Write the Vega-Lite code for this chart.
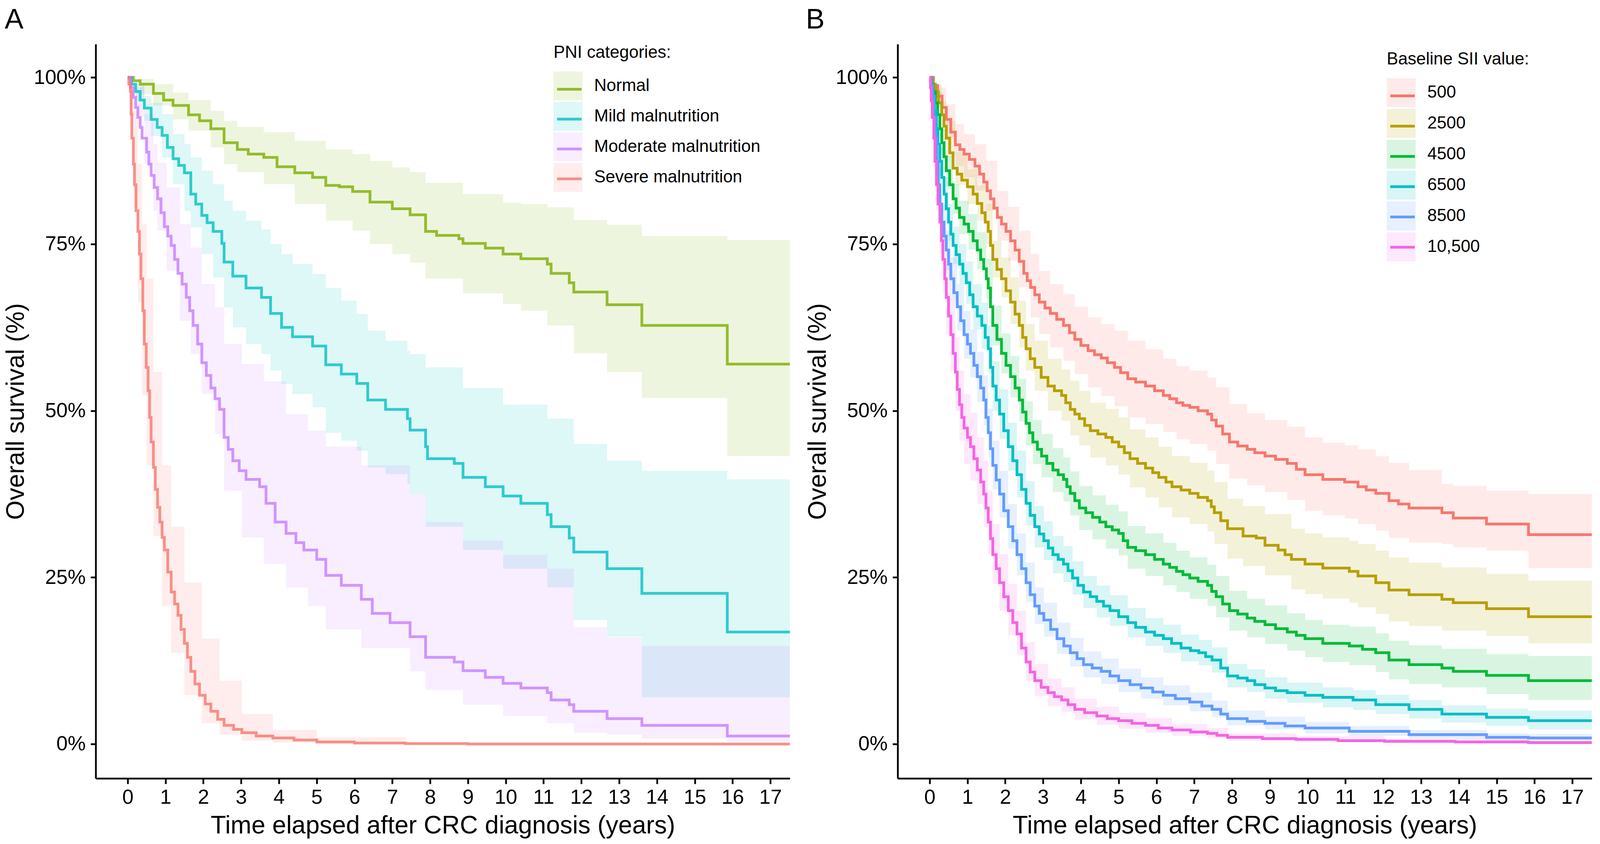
{
  "$schema": "https://vega.github.io/schema/vega-lite/v6.json",
  "padding": {"left": 9, "top": 15, "right": 10, "bottom": 10},
  "bounds": "flush",
  "spacing": 276,
  "datasets": {
    "lineA": [
      {"g":"Normal","t":0,"s":1},{"g":"Normal","t":0.15,"s":0.995},{"g":"Normal","t":0.33,"s":0.99},{"g":"Normal","t":0.68,"s":0.976},{"g":"Normal","t":0.95,"s":0.966},{"g":"Normal","t":1.2,"s":0.958},{"g":"Normal","t":1.61,"s":0.944},{"g":"Normal","t":1.9,"s":0.935},{"g":"Normal","t":2.2,"s":0.923},{"g":"Normal","t":2.55,"s":0.902},{"g":"Normal","t":2.9,"s":0.892},{"g":"Normal","t":3.19,"s":0.885},{"g":"Normal","t":3.6,"s":0.88},{"g":"Normal","t":3.95,"s":0.866},{"g":"Normal","t":4.42,"s":0.857},{"g":"Normal","t":4.89,"s":0.85},{"g":"Normal","t":5.24,"s":0.838},{"g":"Normal","t":5.6,"s":0.836},{"g":"Normal","t":5.95,"s":0.829},{"g":"Normal","t":6.41,"s":0.813},{"g":"Normal","t":7.0,"s":0.803},{"g":"Normal","t":7.47,"s":0.794},{"g":"Normal","t":7.88,"s":0.769},{"g":"Normal","t":8.17,"s":0.763},{"g":"Normal","t":8.76,"s":0.758},{"g":"Normal","t":8.87,"s":0.751},{"g":"Normal","t":9.46,"s":0.744},{"g":"Normal","t":9.93,"s":0.735},{"g":"Normal","t":10.4,"s":0.728},{"g":"Normal","t":11.1,"s":0.72},{"g":"Normal","t":11.2,"s":0.706},{"g":"Normal","t":11.68,"s":0.692},{"g":"Normal","t":11.8,"s":0.678},{"g":"Normal","t":12.68,"s":0.659},{"g":"Normal","t":13.6,"s":0.628},{"g":"Normal","t":15.86,"s":0.57},{"g":"Normal","t":17.515,"s":0.57},
      {"g":"Mild malnutrition","t":0,"s":1},{"g":"Mild malnutrition","t":0.1,"s":0.99},{"g":"Mild malnutrition","t":0.21,"s":0.979},{"g":"Mild malnutrition","t":0.33,"s":0.966},{"g":"Mild malnutrition","t":0.44,"s":0.954},{"g":"Mild malnutrition","t":0.62,"s":0.937},{"g":"Mild malnutrition","t":0.78,"s":0.925},{"g":"Mild malnutrition","t":0.91,"s":0.913},{"g":"Mild malnutrition","t":1.05,"s":0.895},{"g":"Mild malnutrition","t":1.2,"s":0.878},{"g":"Mild malnutrition","t":1.35,"s":0.868},{"g":"Mild malnutrition","t":1.5,"s":0.857},{"g":"Mild malnutrition","t":1.67,"s":0.825},{"g":"Mild malnutrition","t":1.8,"s":0.81},{"g":"Mild malnutrition","t":1.96,"s":0.793},{"g":"Mild malnutrition","t":2.1,"s":0.782},{"g":"Mild malnutrition","t":2.26,"s":0.769},{"g":"Mild malnutrition","t":2.49,"s":0.751},{"g":"Mild malnutrition","t":2.55,"s":0.723},{"g":"Mild malnutrition","t":2.78,"s":0.702},{"g":"Mild malnutrition","t":3.13,"s":0.684},{"g":"Mild malnutrition","t":3.54,"s":0.67},{"g":"Mild malnutrition","t":3.78,"s":0.646},{"g":"Mild malnutrition","t":4.07,"s":0.625},{"g":"Mild malnutrition","t":4.36,"s":0.611},{"g":"Mild malnutrition","t":4.89,"s":0.597},{"g":"Mild malnutrition","t":5.24,"s":0.569},{"g":"Mild malnutrition","t":5.65,"s":0.555},{"g":"Mild malnutrition","t":6.06,"s":0.541},{"g":"Mild malnutrition","t":6.35,"s":0.516},{"g":"Mild malnutrition","t":6.82,"s":0.502},{"g":"Mild malnutrition","t":7.4,"s":0.488},{"g":"Mild malnutrition","t":7.47,"s":0.471},{"g":"Mild malnutrition","t":7.88,"s":0.446},{"g":"Mild malnutrition","t":7.93,"s":0.428},{"g":"Mild malnutrition","t":8.64,"s":0.421},{"g":"Mild malnutrition","t":8.87,"s":0.4},{"g":"Mild malnutrition","t":9.46,"s":0.386},{"g":"Mild malnutrition","t":9.93,"s":0.372},{"g":"Mild malnutrition","t":10.4,"s":0.361},{"g":"Mild malnutrition","t":11.1,"s":0.344},{"g":"Mild malnutrition","t":11.2,"s":0.326},{"g":"Mild malnutrition","t":11.68,"s":0.309},{"g":"Mild malnutrition","t":11.8,"s":0.288},{"g":"Mild malnutrition","t":12.68,"s":0.263},{"g":"Mild malnutrition","t":13.6,"s":0.226},{"g":"Mild malnutrition","t":15.86,"s":0.168},{"g":"Mild malnutrition","t":17.515,"s":0.168},
      {"g":"Moderate malnutrition","t":0,"s":1},{"g":"Moderate malnutrition","t":0.08,"s":0.985},{"g":"Moderate malnutrition","t":0.15,"s":0.97},{"g":"Moderate malnutrition","t":0.21,"s":0.955},{"g":"Moderate malnutrition","t":0.27,"s":0.94},{"g":"Moderate malnutrition","t":0.33,"s":0.925},{"g":"Moderate malnutrition","t":0.38,"s":0.909},{"g":"Moderate malnutrition","t":0.5,"s":0.888},{"g":"Moderate malnutrition","t":0.56,"s":0.87},{"g":"Moderate malnutrition","t":0.62,"s":0.853},{"g":"Moderate malnutrition","t":0.7,"s":0.835},{"g":"Moderate malnutrition","t":0.79,"s":0.818},{"g":"Moderate malnutrition","t":0.88,"s":0.797},{"g":"Moderate malnutrition","t":0.97,"s":0.776},{"g":"Moderate malnutrition","t":1.06,"s":0.762},{"g":"Moderate malnutrition","t":1.15,"s":0.748},{"g":"Moderate malnutrition","t":1.24,"s":0.727},{"g":"Moderate malnutrition","t":1.33,"s":0.706},{"g":"Moderate malnutrition","t":1.44,"s":0.69},{"g":"Moderate malnutrition","t":1.55,"s":0.67},{"g":"Moderate malnutrition","t":1.64,"s":0.65},{"g":"Moderate malnutrition","t":1.73,"s":0.628},{"g":"Moderate malnutrition","t":1.85,"s":0.6},{"g":"Moderate malnutrition","t":1.96,"s":0.572},{"g":"Moderate malnutrition","t":2.08,"s":0.553},{"g":"Moderate malnutrition","t":2.2,"s":0.534},{"g":"Moderate malnutrition","t":2.31,"s":0.518},{"g":"Moderate malnutrition","t":2.43,"s":0.502},{"g":"Moderate malnutrition","t":2.55,"s":0.46},{"g":"Moderate malnutrition","t":2.66,"s":0.442},{"g":"Moderate malnutrition","t":2.78,"s":0.425},{"g":"Moderate malnutrition","t":2.95,"s":0.41},{"g":"Moderate malnutrition","t":3.13,"s":0.397},{"g":"Moderate malnutrition","t":3.49,"s":0.386},{"g":"Moderate malnutrition","t":3.66,"s":0.361},{"g":"Moderate malnutrition","t":3.9,"s":0.333},{"g":"Moderate malnutrition","t":4.19,"s":0.316},{"g":"Moderate malnutrition","t":4.45,"s":0.302},{"g":"Moderate malnutrition","t":4.66,"s":0.291},{"g":"Moderate malnutrition","t":5.0,"s":0.277},{"g":"Moderate malnutrition","t":5.24,"s":0.253},{"g":"Moderate malnutrition","t":5.65,"s":0.238},{"g":"Moderate malnutrition","t":6.18,"s":0.217},{"g":"Moderate malnutrition","t":6.47,"s":0.196},{"g":"Moderate malnutrition","t":6.94,"s":0.182},{"g":"Moderate malnutrition","t":7.47,"s":0.161},{"g":"Moderate malnutrition","t":7.88,"s":0.13},{"g":"Moderate malnutrition","t":8.64,"s":0.123},{"g":"Moderate malnutrition","t":8.87,"s":0.11},{"g":"Moderate malnutrition","t":9.46,"s":0.1},{"g":"Moderate malnutrition","t":9.93,"s":0.091},{"g":"Moderate malnutrition","t":10.4,"s":0.084},{"g":"Moderate malnutrition","t":11.1,"s":0.077},{"g":"Moderate malnutrition","t":11.2,"s":0.066},{"g":"Moderate malnutrition","t":11.68,"s":0.059},{"g":"Moderate malnutrition","t":11.8,"s":0.049},{"g":"Moderate malnutrition","t":12.68,"s":0.038},{"g":"Moderate malnutrition","t":13.6,"s":0.028},{"g":"Moderate malnutrition","t":15.86,"s":0.012},{"g":"Moderate malnutrition","t":17.515,"s":0.012},
      {"g":"Severe malnutrition","t":0,"s":1},{"g":"Severe malnutrition","t":0.03,"s":0.99},{"g":"Severe malnutrition","t":0.07,"s":0.979},{"g":"Severe malnutrition","t":0.09,"s":0.945},{"g":"Severe malnutrition","t":0.11,"s":0.909},{"g":"Severe malnutrition","t":0.15,"s":0.87},{"g":"Severe malnutrition","t":0.18,"s":0.839},{"g":"Severe malnutrition","t":0.22,"s":0.8},{"g":"Severe malnutrition","t":0.27,"s":0.769},{"g":"Severe malnutrition","t":0.31,"s":0.735},{"g":"Severe malnutrition","t":0.35,"s":0.698},{"g":"Severe malnutrition","t":0.4,"s":0.65},{"g":"Severe malnutrition","t":0.44,"s":0.6},{"g":"Severe malnutrition","t":0.49,"s":0.565},{"g":"Severe malnutrition","t":0.54,"s":0.53},{"g":"Severe malnutrition","t":0.58,"s":0.49},{"g":"Severe malnutrition","t":0.62,"s":0.453},{"g":"Severe malnutrition","t":0.68,"s":0.415},{"g":"Severe malnutrition","t":0.73,"s":0.382},{"g":"Severe malnutrition","t":0.79,"s":0.355},{"g":"Severe malnutrition","t":0.85,"s":0.333},{"g":"Severe malnutrition","t":0.91,"s":0.31},{"g":"Severe malnutrition","t":0.97,"s":0.291},{"g":"Severe malnutrition","t":1.06,"s":0.258},{"g":"Severe malnutrition","t":1.15,"s":0.228},{"g":"Severe malnutrition","t":1.24,"s":0.21},{"g":"Severe malnutrition","t":1.33,"s":0.193},{"g":"Severe malnutrition","t":1.41,"s":0.172},{"g":"Severe malnutrition","t":1.5,"s":0.151},{"g":"Severe malnutrition","t":1.58,"s":0.13},{"g":"Severe malnutrition","t":1.67,"s":0.109},{"g":"Severe malnutrition","t":1.78,"s":0.09},{"g":"Severe malnutrition","t":1.9,"s":0.073},{"g":"Severe malnutrition","t":2.05,"s":0.06},{"g":"Severe malnutrition","t":2.2,"s":0.049},{"g":"Severe malnutrition","t":2.38,"s":0.037},{"g":"Severe malnutrition","t":2.55,"s":0.028},{"g":"Severe malnutrition","t":2.8,"s":0.022},{"g":"Severe malnutrition","t":3.02,"s":0.017},{"g":"Severe malnutrition","t":3.4,"s":0.012},{"g":"Severe malnutrition","t":3.84,"s":0.009},{"g":"Severe malnutrition","t":4.4,"s":0.006},{"g":"Severe malnutrition","t":5.0,"s":0.003},{"g":"Severe malnutrition","t":6.0,"s":0.0015},{"g":"Severe malnutrition","t":7.35,"s":0.0005},{"g":"Severe malnutrition","t":9,"s":0},{"g":"Severe malnutrition","t":17.515,"s":0}
    ],
    "bandA": [
      {"grp":"Normal","t":0,"lo":1,"hi":1},{"grp":"Normal","t":0.33,"lo":0.975,"hi":0.998},{"grp":"Normal","t":0.68,"lo":0.958,"hi":0.99},{"grp":"Normal","t":1.2,"lo":0.937,"hi":0.977},{"grp":"Normal","t":1.61,"lo":0.92,"hi":0.966},{"grp":"Normal","t":2.2,"lo":0.895,"hi":0.95},{"grp":"Normal","t":2.55,"lo":0.87,"hi":0.935},{"grp":"Normal","t":2.9,"lo":0.858,"hi":0.926},{"grp":"Normal","t":3.6,"lo":0.84,"hi":0.918},{"grp":"Normal","t":4.42,"lo":0.81,"hi":0.905},{"grp":"Normal","t":5.24,"lo":0.785,"hi":0.892},{"grp":"Normal","t":5.95,"lo":0.77,"hi":0.885},{"grp":"Normal","t":6.41,"lo":0.75,"hi":0.875},{"grp":"Normal","t":7.0,"lo":0.735,"hi":0.865},{"grp":"Normal","t":7.47,"lo":0.722,"hi":0.858},{"grp":"Normal","t":7.88,"lo":0.698,"hi":0.842},{"grp":"Normal","t":8.87,"lo":0.676,"hi":0.825},{"grp":"Normal","t":9.93,"lo":0.66,"hi":0.812},{"grp":"Normal","t":10.4,"lo":0.65,"hi":0.81},{"grp":"Normal","t":11.1,"lo":0.628,"hi":0.805},{"grp":"Normal","t":11.8,"lo":0.586,"hi":0.786},{"grp":"Normal","t":12.68,"lo":0.558,"hi":0.779},{"grp":"Normal","t":13.6,"lo":0.519,"hi":0.762},{"grp":"Normal","t":15.86,"lo":0.432,"hi":0.756},{"grp":"Normal","t":17.515,"lo":0.432,"hi":0.756},
      {"grp":"Mild malnutrition","t":0,"lo":1,"hi":1},{"grp":"Mild malnutrition","t":0.21,"lo":0.965,"hi":0.99},{"grp":"Mild malnutrition","t":0.44,"lo":0.935,"hi":0.972},{"grp":"Mild malnutrition","t":0.62,"lo":0.912,"hi":0.962},{"grp":"Mild malnutrition","t":0.91,"lo":0.88,"hi":0.945},{"grp":"Mild malnutrition","t":1.2,"lo":0.84,"hi":0.915},{"grp":"Mild malnutrition","t":1.5,"lo":0.8,"hi":0.9},{"grp":"Mild malnutrition","t":1.67,"lo":0.775,"hi":0.88},{"grp":"Mild malnutrition","t":1.96,"lo":0.735,"hi":0.86},{"grp":"Mild malnutrition","t":2.26,"lo":0.7,"hi":0.84},{"grp":"Mild malnutrition","t":2.55,"lo":0.655,"hi":0.815},{"grp":"Mild malnutrition","t":2.78,"lo":0.625,"hi":0.8},{"grp":"Mild malnutrition","t":3.13,"lo":0.6,"hi":0.785},{"grp":"Mild malnutrition","t":3.54,"lo":0.585,"hi":0.772},{"grp":"Mild malnutrition","t":3.78,"lo":0.56,"hi":0.75},{"grp":"Mild malnutrition","t":4.07,"lo":0.54,"hi":0.735},{"grp":"Mild malnutrition","t":4.36,"lo":0.525,"hi":0.72},{"grp":"Mild malnutrition","t":4.89,"lo":0.505,"hi":0.705},{"grp":"Mild malnutrition","t":5.24,"lo":0.467,"hi":0.684},{"grp":"Mild malnutrition","t":5.65,"lo":0.455,"hi":0.665},{"grp":"Mild malnutrition","t":6.06,"lo":0.44,"hi":0.645},{"grp":"Mild malnutrition","t":6.35,"lo":0.415,"hi":0.62},{"grp":"Mild malnutrition","t":6.82,"lo":0.405,"hi":0.605},{"grp":"Mild malnutrition","t":7.4,"lo":0.39,"hi":0.59},{"grp":"Mild malnutrition","t":7.47,"lo":0.375,"hi":0.585},{"grp":"Mild malnutrition","t":7.88,"lo":0.326,"hi":0.565},{"grp":"Mild malnutrition","t":8.87,"lo":0.291,"hi":0.534},{"grp":"Mild malnutrition","t":9.93,"lo":0.263,"hi":0.509},{"grp":"Mild malnutrition","t":11.1,"lo":0.235,"hi":0.488},{"grp":"Mild malnutrition","t":11.8,"lo":0.186,"hi":0.45},{"grp":"Mild malnutrition","t":12.68,"lo":0.161,"hi":0.425},{"grp":"Mild malnutrition","t":13.6,"lo":0.07,"hi":0.41},{"grp":"Mild malnutrition","t":15.86,"lo":0.07,"hi":0.397},{"grp":"Mild malnutrition","t":17.515,"lo":0.07,"hi":0.397},
      {"grp":"Moderate malnutrition","t":0,"lo":1,"hi":1},{"grp":"Moderate malnutrition","t":0.21,"lo":0.94,"hi":0.985},{"grp":"Moderate malnutrition","t":0.44,"lo":0.87,"hi":0.945},{"grp":"Moderate malnutrition","t":0.68,"lo":0.8,"hi":0.9},{"grp":"Moderate malnutrition","t":0.79,"lo":0.77,"hi":0.872},{"grp":"Moderate malnutrition","t":1.03,"lo":0.71,"hi":0.835},{"grp":"Moderate malnutrition","t":1.38,"lo":0.635,"hi":0.78},{"grp":"Moderate malnutrition","t":1.67,"lo":0.585,"hi":0.745},{"grp":"Moderate malnutrition","t":1.96,"lo":0.525,"hi":0.69},{"grp":"Moderate malnutrition","t":2.31,"lo":0.465,"hi":0.655},{"grp":"Moderate malnutrition","t":2.55,"lo":0.38,"hi":0.6},{"grp":"Moderate malnutrition","t":3.02,"lo":0.31,"hi":0.57},{"grp":"Moderate malnutrition","t":3.6,"lo":0.27,"hi":0.544},{"grp":"Moderate malnutrition","t":4.19,"lo":0.235,"hi":0.495},{"grp":"Moderate malnutrition","t":4.77,"lo":0.207,"hi":0.47},{"grp":"Moderate malnutrition","t":5.24,"lo":0.172,"hi":0.446},{"grp":"Moderate malnutrition","t":6.18,"lo":0.144,"hi":0.418},{"grp":"Moderate malnutrition","t":7.47,"lo":0.109,"hi":0.375},{"grp":"Moderate malnutrition","t":7.88,"lo":0.081,"hi":0.333},{"grp":"Moderate malnutrition","t":8.87,"lo":0.059,"hi":0.305},{"grp":"Moderate malnutrition","t":9.93,"lo":0.042,"hi":0.284},{"grp":"Moderate malnutrition","t":11.1,"lo":0.031,"hi":0.263},{"grp":"Moderate malnutrition","t":11.8,"lo":0.017,"hi":0.175},{"grp":"Moderate malnutrition","t":12.68,"lo":0.014,"hi":0.16},{"grp":"Moderate malnutrition","t":13.6,"lo":0.008,"hi":0.147},{"grp":"Moderate malnutrition","t":15.86,"lo":0.003,"hi":0.147},{"grp":"Moderate malnutrition","t":17.515,"lo":0.003,"hi":0.147},
      {"grp":"Severe malnutrition","t":0,"lo":1,"hi":1},{"grp":"Severe malnutrition","t":0.07,"lo":0.944,"hi":0.99},{"grp":"Severe malnutrition","t":0.15,"lo":0.804,"hi":0.95},{"grp":"Severe malnutrition","t":0.27,"lo":0.663,"hi":0.87},{"grp":"Severe malnutrition","t":0.38,"lo":0.523,"hi":0.78},{"grp":"Severe malnutrition","t":0.5,"lo":0.418,"hi":0.698},{"grp":"Severe malnutrition","t":0.68,"lo":0.312,"hi":0.558},{"grp":"Severe malnutrition","t":0.91,"lo":0.207,"hi":0.418},{"grp":"Severe malnutrition","t":1.15,"lo":0.137,"hi":0.326},{"grp":"Severe malnutrition","t":1.5,"lo":0.073,"hi":0.242},{"grp":"Severe malnutrition","t":1.96,"lo":0.031,"hi":0.158},{"grp":"Severe malnutrition","t":2.43,"lo":0.014,"hi":0.095},{"grp":"Severe malnutrition","t":3.02,"lo":0.005,"hi":0.045},{"grp":"Severe malnutrition","t":3.84,"lo":0.002,"hi":0.021},{"grp":"Severe malnutrition","t":5.0,"lo":0,"hi":0.01},{"grp":"Severe malnutrition","t":7.35,"lo":0,"hi":0.003},{"grp":"Severe malnutrition","t":9,"lo":0,"hi":0.001},{"grp":"Severe malnutrition","t":17.515,"lo":0,"hi":0.001}
    ],
    "lineB": [
      {"g":"500","t":0,"s":1},{"g":"500","t":0.1,"s":0.988},{"g":"500","t":0.21,"s":0.972},{"g":"500","t":0.33,"s":0.955},{"g":"500","t":0.44,"s":0.937},{"g":"500","t":0.56,"s":0.918},{"g":"500","t":0.68,"s":0.899},{"g":"500","t":0.8,"s":0.892},{"g":"500","t":0.91,"s":0.885},{"g":"500","t":1.05,"s":0.877},{"g":"500","t":1.2,"s":0.867},{"g":"500","t":1.32,"s":0.855},{"g":"500","t":1.43,"s":0.843},{"g":"500","t":1.52,"s":0.83},{"g":"500","t":1.61,"s":0.818},{"g":"500","t":1.7,"s":0.804},{"g":"500","t":1.79,"s":0.79},{"g":"500","t":1.9,"s":0.78},{"g":"500","t":2.02,"s":0.769},{"g":"500","t":2.14,"s":0.755},{"g":"500","t":2.26,"s":0.741},{"g":"500","t":2.37,"s":0.724},{"g":"500","t":2.49,"s":0.706},{"g":"500","t":2.58,"s":0.695},{"g":"500","t":2.67,"s":0.685},{"g":"500","t":2.78,"s":0.674},{"g":"500","t":2.9,"s":0.663},{"g":"500","t":3.05,"s":0.654},{"g":"500","t":3.19,"s":0.646},{"g":"500","t":3.36,"s":0.637},{"g":"500","t":3.54,"s":0.628},{"g":"500","t":3.7,"s":0.617},{"g":"500","t":3.84,"s":0.607},{"g":"500","t":4.0,"s":0.598},{"g":"500","t":4.19,"s":0.59},{"g":"500","t":4.36,"s":0.584},{"g":"500","t":4.54,"s":0.579},{"g":"500","t":4.7,"s":0.572},{"g":"500","t":4.89,"s":0.565},{"g":"500","t":5.05,"s":0.557},{"g":"500","t":5.24,"s":0.548},{"g":"500","t":5.45,"s":0.543},{"g":"500","t":5.71,"s":0.537},{"g":"500","t":5.95,"s":0.53},{"g":"500","t":6.18,"s":0.523},{"g":"500","t":6.35,"s":0.518},{"g":"500","t":6.53,"s":0.512},{"g":"500","t":6.7,"s":0.508},{"g":"500","t":6.88,"s":0.505},{"g":"500","t":7.1,"s":0.5},{"g":"500","t":7.35,"s":0.495},{"g":"500","t":7.46,"s":0.486},{"g":"500","t":7.58,"s":0.477},{"g":"500","t":7.75,"s":0.465},{"g":"500","t":7.93,"s":0.453},{"g":"500","t":8.15,"s":0.447},{"g":"500","t":8.4,"s":0.442},{"g":"500","t":8.6,"s":0.437},{"g":"500","t":8.87,"s":0.432},{"g":"500","t":9.15,"s":0.427},{"g":"500","t":9.46,"s":0.421},{"g":"500","t":9.7,"s":0.412},{"g":"500","t":9.93,"s":0.404},{"g":"500","t":10.4,"s":0.397},{"g":"500","t":10.98,"s":0.393},{"g":"500","t":11.33,"s":0.386},{"g":"500","t":11.55,"s":0.381},{"g":"500","t":11.8,"s":0.376},{"g":"500","t":12.15,"s":0.365},{"g":"500","t":12.4,"s":0.36},{"g":"500","t":12.68,"s":0.354},{"g":"500","t":13.55,"s":0.347},{"g":"500","t":13.85,"s":0.339},{"g":"500","t":14.73,"s":0.33},{"g":"500","t":15.84,"s":0.314},{"g":"500","t":17.515,"s":0.314},
      {"g":"2500","t":0,"s":1},{"g":"2500","t":0.08,"s":0.99},{"g":"2500","t":0.15,"s":0.979},{"g":"2500","t":0.23,"s":0.962},{"g":"2500","t":0.32,"s":0.944},{"g":"2500","t":0.38,"s":0.927},{"g":"2500","t":0.44,"s":0.909},{"g":"2500","t":0.53,"s":0.887},{"g":"2500","t":0.62,"s":0.864},{"g":"2500","t":0.73,"s":0.855},{"g":"2500","t":0.85,"s":0.846},{"g":"2500","t":1.0,"s":0.836},{"g":"2500","t":1.15,"s":0.825},{"g":"2500","t":1.26,"s":0.811},{"g":"2500","t":1.38,"s":0.797},{"g":"2500","t":1.47,"s":0.783},{"g":"2500","t":1.55,"s":0.769},{"g":"2500","t":1.61,"s":0.748},{"g":"2500","t":1.67,"s":0.727},{"g":"2500","t":1.78,"s":0.712},{"g":"2500","t":1.9,"s":0.698},{"g":"2500","t":2.02,"s":0.68},{"g":"2500","t":2.14,"s":0.663},{"g":"2500","t":2.26,"s":0.645},{"g":"2500","t":2.37,"s":0.628},{"g":"2500","t":2.46,"s":0.61},{"g":"2500","t":2.55,"s":0.593},{"g":"2500","t":2.66,"s":0.578},{"g":"2500","t":2.78,"s":0.565},{"g":"2500","t":2.95,"s":0.55},{"g":"2500","t":3.13,"s":0.537},{"g":"2500","t":3.3,"s":0.53},{"g":"2500","t":3.49,"s":0.523},{"g":"2500","t":3.6,"s":0.512},{"g":"2500","t":3.72,"s":0.502},{"g":"2500","t":3.84,"s":0.495},{"g":"2500","t":3.96,"s":0.488},{"g":"2500","t":4.1,"s":0.478},{"g":"2500","t":4.25,"s":0.47},{"g":"2500","t":4.45,"s":0.465},{"g":"2500","t":4.66,"s":0.46},{"g":"2500","t":4.83,"s":0.453},{"g":"2500","t":5.0,"s":0.446},{"g":"2500","t":5.15,"s":0.437},{"g":"2500","t":5.3,"s":0.428},{"g":"2500","t":5.5,"s":0.421},{"g":"2500","t":5.71,"s":0.414},{"g":"2500","t":5.9,"s":0.407},{"g":"2500","t":6.06,"s":0.4},{"g":"2500","t":6.25,"s":0.393},{"g":"2500","t":6.41,"s":0.386},{"g":"2500","t":6.65,"s":0.381},{"g":"2500","t":6.88,"s":0.376},{"g":"2500","t":7.1,"s":0.37},{"g":"2500","t":7.35,"s":0.365},{"g":"2500","t":7.45,"s":0.356},{"g":"2500","t":7.53,"s":0.347},{"g":"2500","t":7.7,"s":0.335},{"g":"2500","t":7.88,"s":0.323},{"g":"2500","t":8.29,"s":0.312},{"g":"2500","t":8.64,"s":0.309},{"g":"2500","t":8.87,"s":0.298},{"g":"2500","t":9.22,"s":0.291},{"g":"2500","t":9.4,"s":0.284},{"g":"2500","t":9.57,"s":0.277},{"g":"2500","t":9.93,"s":0.27},{"g":"2500","t":10.4,"s":0.264},{"g":"2500","t":11.1,"s":0.259},{"g":"2500","t":11.33,"s":0.252},{"g":"2500","t":11.8,"s":0.242},{"g":"2500","t":12.15,"s":0.231},{"g":"2500","t":12.68,"s":0.224},{"g":"2500","t":13.55,"s":0.217},{"g":"2500","t":13.85,"s":0.212},{"g":"2500","t":14.73,"s":0.203},{"g":"2500","t":15.84,"s":0.191},{"g":"2500","t":17.515,"s":0.191},
      {"g":"4500","t":0,"s":1},{"g":"4500","t":0.05,"s":0.99},{"g":"4500","t":0.09,"s":0.979},{"g":"4500","t":0.15,"s":0.962},{"g":"4500","t":0.21,"s":0.944},{"g":"4500","t":0.27,"s":0.923},{"g":"4500","t":0.32,"s":0.902},{"g":"4500","t":0.38,"s":0.881},{"g":"4500","t":0.44,"s":0.86},{"g":"4500","t":0.53,"s":0.839},{"g":"4500","t":0.62,"s":0.818},{"g":"4500","t":0.7,"s":0.804},{"g":"4500","t":0.79,"s":0.79},{"g":"4500","t":0.91,"s":0.78},{"g":"4500","t":1.03,"s":0.769},{"g":"4500","t":1.15,"s":0.755},{"g":"4500","t":1.26,"s":0.741},{"g":"4500","t":1.35,"s":0.727},{"g":"4500","t":1.43,"s":0.713},{"g":"4500","t":1.5,"s":0.698},{"g":"4500","t":1.55,"s":0.684},{"g":"4500","t":1.61,"s":0.656},{"g":"4500","t":1.67,"s":0.628},{"g":"4500","t":1.78,"s":0.607},{"g":"4500","t":1.9,"s":0.586},{"g":"4500","t":2.02,"s":0.568},{"g":"4500","t":2.14,"s":0.551},{"g":"4500","t":2.26,"s":0.534},{"g":"4500","t":2.37,"s":0.516},{"g":"4500","t":2.46,"s":0.498},{"g":"4500","t":2.55,"s":0.481},{"g":"4500","t":2.64,"s":0.467},{"g":"4500","t":2.73,"s":0.453},{"g":"4500","t":2.85,"s":0.442},{"g":"4500","t":2.96,"s":0.432},{"g":"4500","t":3.1,"s":0.421},{"g":"4500","t":3.26,"s":0.411},{"g":"4500","t":3.4,"s":0.404},{"g":"4500","t":3.54,"s":0.397},{"g":"4500","t":3.63,"s":0.386},{"g":"4500","t":3.72,"s":0.376},{"g":"4500","t":3.84,"s":0.365},{"g":"4500","t":3.96,"s":0.354},{"g":"4500","t":4.13,"s":0.347},{"g":"4500","t":4.31,"s":0.34},{"g":"4500","t":4.5,"s":0.333},{"g":"4500","t":4.66,"s":0.326},{"g":"4500","t":4.83,"s":0.321},{"g":"4500","t":5.0,"s":0.316},{"g":"4500","t":5.12,"s":0.305},{"g":"4500","t":5.24,"s":0.295},{"g":"4500","t":5.45,"s":0.29},{"g":"4500","t":5.71,"s":0.284},{"g":"4500","t":5.95,"s":0.277},{"g":"4500","t":6.18,"s":0.27},{"g":"4500","t":6.35,"s":0.265},{"g":"4500","t":6.53,"s":0.259},{"g":"4500","t":6.7,"s":0.254},{"g":"4500","t":6.88,"s":0.249},{"g":"4500","t":7.1,"s":0.244},{"g":"4500","t":7.35,"s":0.238},{"g":"4500","t":7.46,"s":0.229},{"g":"4500","t":7.58,"s":0.221},{"g":"4500","t":7.75,"s":0.21},{"g":"4500","t":7.93,"s":0.2},{"g":"4500","t":8.15,"s":0.195},{"g":"4500","t":8.4,"s":0.189},{"g":"4500","t":8.6,"s":0.184},{"g":"4500","t":8.87,"s":0.179},{"g":"4500","t":9.15,"s":0.173},{"g":"4500","t":9.46,"s":0.168},{"g":"4500","t":9.7,"s":0.163},{"g":"4500","t":9.93,"s":0.158},{"g":"4500","t":10.4,"s":0.151},{"g":"4500","t":11.1,"s":0.147},{"g":"4500","t":11.45,"s":0.142},{"g":"4500","t":11.8,"s":0.137},{"g":"4500","t":12.15,"s":0.126},{"g":"4500","t":12.68,"s":0.119},{"g":"4500","t":13.55,"s":0.114},{"g":"4500","t":13.85,"s":0.109},{"g":"4500","t":14.73,"s":0.103},{"g":"4500","t":15.84,"s":0.095},{"g":"4500","t":17.515,"s":0.095},
      {"g":"6500","t":0,"s":1},{"g":"6500","t":0.05,"s":0.988},{"g":"6500","t":0.09,"s":0.972},{"g":"6500","t":0.13,"s":0.95},{"g":"6500","t":0.18,"s":0.923},{"g":"6500","t":0.22,"s":0.9},{"g":"6500","t":0.27,"s":0.874},{"g":"6500","t":0.32,"s":0.85},{"g":"6500","t":0.38,"s":0.825},{"g":"6500","t":0.44,"s":0.803},{"g":"6500","t":0.5,"s":0.783},{"g":"6500","t":0.56,"s":0.765},{"g":"6500","t":0.62,"s":0.748},{"g":"6500","t":0.7,"s":0.734},{"g":"6500","t":0.79,"s":0.72},{"g":"6500","t":0.88,"s":0.706},{"g":"6500","t":0.97,"s":0.692},{"g":"6500","t":1.06,"s":0.674},{"g":"6500","t":1.15,"s":0.656},{"g":"6500","t":1.26,"s":0.642},{"g":"6500","t":1.38,"s":0.628},{"g":"6500","t":1.47,"s":0.61},{"g":"6500","t":1.55,"s":0.593},{"g":"6500","t":1.61,"s":0.565},{"g":"6500","t":1.67,"s":0.537},{"g":"6500","t":1.76,"s":0.516},{"g":"6500","t":1.85,"s":0.495},{"g":"6500","t":1.96,"s":0.47},{"g":"6500","t":2.08,"s":0.446},{"g":"6500","t":2.2,"s":0.425},{"g":"6500","t":2.31,"s":0.404},{"g":"6500","t":2.43,"s":0.382},{"g":"6500","t":2.55,"s":0.361},{"g":"6500","t":2.66,"s":0.343},{"g":"6500","t":2.78,"s":0.326},{"g":"6500","t":2.9,"s":0.315},{"g":"6500","t":3.02,"s":0.305},{"g":"6500","t":3.14,"s":0.294},{"g":"6500","t":3.26,"s":0.284},{"g":"6500","t":3.4,"s":0.277},{"g":"6500","t":3.54,"s":0.27},{"g":"6500","t":3.66,"s":0.26},{"g":"6500","t":3.78,"s":0.249},{"g":"6500","t":3.92,"s":0.238},{"g":"6500","t":4.07,"s":0.228},{"g":"6500","t":4.25,"s":0.221},{"g":"6500","t":4.42,"s":0.214},{"g":"6500","t":4.6,"s":0.207},{"g":"6500","t":4.77,"s":0.2},{"g":"6500","t":5.0,"s":0.191},{"g":"6500","t":5.24,"s":0.182},{"g":"6500","t":5.45,"s":0.175},{"g":"6500","t":5.71,"s":0.168},{"g":"6500","t":5.95,"s":0.163},{"g":"6500","t":6.18,"s":0.158},{"g":"6500","t":6.4,"s":0.151},{"g":"6500","t":6.65,"s":0.144},{"g":"6500","t":6.9,"s":0.14},{"g":"6500","t":7.12,"s":0.137},{"g":"6500","t":7.3,"s":0.131},{"g":"6500","t":7.47,"s":0.126},{"g":"6500","t":7.7,"s":0.114},{"g":"6500","t":7.88,"s":0.102},{"g":"6500","t":8.15,"s":0.099},{"g":"6500","t":8.4,"s":0.095},{"g":"6500","t":8.6,"s":0.089},{"g":"6500","t":8.87,"s":0.084},{"g":"6500","t":9.15,"s":0.08},{"g":"6500","t":9.46,"s":0.077},{"g":"6500","t":9.93,"s":0.073},{"g":"6500","t":10.4,"s":0.07},{"g":"6500","t":11.2,"s":0.066},{"g":"6500","t":11.8,"s":0.059},{"g":"6500","t":12.68,"s":0.052},{"g":"6500","t":13.55,"s":0.045},{"g":"6500","t":14.73,"s":0.04},{"g":"6500","t":15.84,"s":0.035},{"g":"6500","t":17.515,"s":0.035},
      {"g":"8500","t":0,"s":1},{"g":"8500","t":0.04,"s":0.988},{"g":"8500","t":0.07,"s":0.972},{"g":"8500","t":0.11,"s":0.94},{"g":"8500","t":0.15,"s":0.909},{"g":"8500","t":0.19,"s":0.874},{"g":"8500","t":0.23,"s":0.839},{"g":"8500","t":0.27,"s":0.81},{"g":"8500","t":0.32,"s":0.783},{"g":"8500","t":0.38,"s":0.762},{"g":"8500","t":0.44,"s":0.741},{"g":"8500","t":0.5,"s":0.72},{"g":"8500","t":0.56,"s":0.698},{"g":"8500","t":0.64,"s":0.677},{"g":"8500","t":0.73,"s":0.656},{"g":"8500","t":0.82,"s":0.635},{"g":"8500","t":0.91,"s":0.614},{"g":"8500","t":1.0,"s":0.6},{"g":"8500","t":1.08,"s":0.586},{"g":"8500","t":1.17,"s":0.568},{"g":"8500","t":1.26,"s":0.551},{"g":"8500","t":1.35,"s":0.534},{"g":"8500","t":1.43,"s":0.516},{"g":"8500","t":1.49,"s":0.49},{"g":"8500","t":1.55,"s":0.467},{"g":"8500","t":1.61,"s":0.443},{"g":"8500","t":1.67,"s":0.418},{"g":"8500","t":1.76,"s":0.396},{"g":"8500","t":1.85,"s":0.375},{"g":"8500","t":1.96,"s":0.35},{"g":"8500","t":2.08,"s":0.326},{"g":"8500","t":2.2,"s":0.305},{"g":"8500","t":2.31,"s":0.284},{"g":"8500","t":2.43,"s":0.263},{"g":"8500","t":2.55,"s":0.242},{"g":"8500","t":2.66,"s":0.224},{"g":"8500","t":2.78,"s":0.207},{"g":"8500","t":2.9,"s":0.196},{"g":"8500","t":3.02,"s":0.186},{"g":"8500","t":3.2,"s":0.172},{"g":"8500","t":3.37,"s":0.158},{"g":"8500","t":3.55,"s":0.147},{"g":"8500","t":3.72,"s":0.137},{"g":"8500","t":3.9,"s":0.128},{"g":"8500","t":4.07,"s":0.119},{"g":"8500","t":4.3,"s":0.114},{"g":"8500","t":4.54,"s":0.109},{"g":"8500","t":4.77,"s":0.102},{"g":"8500","t":5.0,"s":0.095},{"g":"8500","t":5.3,"s":0.089},{"g":"8500","t":5.59,"s":0.084},{"g":"8500","t":5.9,"s":0.078},{"g":"8500","t":6.18,"s":0.073},{"g":"8500","t":6.5,"s":0.068},{"g":"8500","t":6.88,"s":0.063},{"g":"8500","t":7.2,"s":0.057},{"g":"8500","t":7.47,"s":0.052},{"g":"8500","t":7.7,"s":0.045},{"g":"8500","t":7.88,"s":0.038},{"g":"8500","t":8.4,"s":0.034},{"g":"8500","t":8.87,"s":0.031},{"g":"8500","t":9.4,"s":0.027},{"g":"8500","t":9.93,"s":0.024},{"g":"8500","t":11.1,"s":0.019},{"g":"8500","t":12.68,"s":0.014},{"g":"8500","t":14.73,"s":0.01},{"g":"8500","t":15.84,"s":0.009},{"g":"8500","t":17.515,"s":0.009},
      {"g":"10,500","t":0,"s":1},{"g":"10,500","t":0.02,"s":0.985},{"g":"10,500","t":0.04,"s":0.965},{"g":"10,500","t":0.07,"s":0.94},{"g":"10,500","t":0.11,"s":0.909},{"g":"10,500","t":0.14,"s":0.874},{"g":"10,500","t":0.18,"s":0.839},{"g":"10,500","t":0.22,"s":0.81},{"g":"10,500","t":0.27,"s":0.783},{"g":"10,500","t":0.31,"s":0.755},{"g":"10,500","t":0.35,"s":0.727},{"g":"10,500","t":0.4,"s":0.698},{"g":"10,500","t":0.44,"s":0.67},{"g":"10,500","t":0.5,"s":0.642},{"g":"10,500","t":0.56,"s":0.614},{"g":"10,500","t":0.62,"s":0.586},{"g":"10,500","t":0.68,"s":0.558},{"g":"10,500","t":0.73,"s":0.532},{"g":"10,500","t":0.79,"s":0.509},{"g":"10,500","t":0.85,"s":0.49},{"g":"10,500","t":0.91,"s":0.474},{"g":"10,500","t":1.0,"s":0.46},{"g":"10,500","t":1.08,"s":0.446},{"g":"10,500","t":1.17,"s":0.428},{"g":"10,500","t":1.26,"s":0.411},{"g":"10,500","t":1.35,"s":0.393},{"g":"10,500","t":1.43,"s":0.375},{"g":"10,500","t":1.49,"s":0.354},{"g":"10,500","t":1.55,"s":0.333},{"g":"10,500","t":1.61,"s":0.308},{"g":"10,500","t":1.67,"s":0.284},{"g":"10,500","t":1.76,"s":0.263},{"g":"10,500","t":1.85,"s":0.242},{"g":"10,500","t":1.96,"s":0.221},{"g":"10,500","t":2.08,"s":0.2},{"g":"10,500","t":2.2,"s":0.182},{"g":"10,500","t":2.31,"s":0.165},{"g":"10,500","t":2.43,"s":0.144},{"g":"10,500","t":2.55,"s":0.123},{"g":"10,500","t":2.66,"s":0.108},{"g":"10,500","t":2.78,"s":0.095},{"g":"10,500","t":2.95,"s":0.085},{"g":"10,500","t":3.13,"s":0.077},{"g":"10,500","t":3.3,"s":0.071},{"g":"10,500","t":3.49,"s":0.066},{"g":"10,500","t":3.66,"s":0.059},{"g":"10,500","t":3.84,"s":0.052},{"g":"10,500","t":4.1,"s":0.047},{"g":"10,500","t":4.42,"s":0.042},{"g":"10,500","t":4.7,"s":0.038},{"g":"10,500","t":5.0,"s":0.035},{"g":"10,500","t":5.35,"s":0.031},{"g":"10,500","t":5.71,"s":0.028},{"g":"10,500","t":6.05,"s":0.024},{"g":"10,500","t":6.41,"s":0.021},{"g":"10,500","t":6.9,"s":0.018},{"g":"10,500","t":7.35,"s":0.016},{"g":"10,500","t":7.6,"s":0.013},{"g":"10,500","t":7.88,"s":0.01},{"g":"10,500","t":8.8,"s":0.008},{"g":"10,500","t":9.69,"s":0.007},{"g":"10,500","t":10.8,"s":0.005},{"g":"10,500","t":12.03,"s":0.004},{"g":"10,500","t":13.9,"s":0.003},{"g":"10,500","t":15.84,"s":0.002},{"g":"10,500","t":17.515,"s":0.002}
    ],
    "bandB": [
      {"grp":"500","t":0,"lo":1,"hi":1},{"grp":"500","t":0.21,"lo":0.955,"hi":0.985},{"grp":"500","t":0.44,"lo":0.91,"hi":0.96},{"grp":"500","t":0.68,"lo":0.867,"hi":0.93},{"grp":"500","t":0.91,"lo":0.85,"hi":0.915},{"grp":"500","t":1.2,"lo":0.83,"hi":0.9},{"grp":"500","t":1.5,"lo":0.8,"hi":0.875},{"grp":"500","t":1.79,"lo":0.755,"hi":0.83},{"grp":"500","t":2.08,"lo":0.725,"hi":0.806},{"grp":"500","t":2.37,"lo":0.685,"hi":0.77},{"grp":"500","t":2.67,"lo":0.64,"hi":0.735},{"grp":"500","t":2.9,"lo":0.615,"hi":0.71},{"grp":"500","t":3.19,"lo":0.595,"hi":0.69},{"grp":"500","t":3.54,"lo":0.575,"hi":0.675},{"grp":"500","t":3.84,"lo":0.555,"hi":0.656},{"grp":"500","t":4.19,"lo":0.535,"hi":0.64},{"grp":"500","t":4.54,"lo":0.522,"hi":0.63},{"grp":"500","t":4.89,"lo":0.507,"hi":0.62},{"grp":"500","t":5.24,"lo":0.49,"hi":0.605},{"grp":"500","t":5.71,"lo":0.48,"hi":0.592},{"grp":"500","t":6.18,"lo":0.468,"hi":0.578},{"grp":"500","t":6.53,"lo":0.457,"hi":0.567},{"grp":"500","t":6.88,"lo":0.45,"hi":0.56},{"grp":"500","t":7.35,"lo":0.44,"hi":0.55},{"grp":"500","t":7.58,"lo":0.42,"hi":0.535},{"grp":"500","t":7.93,"lo":0.398,"hi":0.51},{"grp":"500","t":8.4,"lo":0.388,"hi":0.496},{"grp":"500","t":8.87,"lo":0.378,"hi":0.486},{"grp":"500","t":9.46,"lo":0.366,"hi":0.476},{"grp":"500","t":9.93,"lo":0.35,"hi":0.46},{"grp":"500","t":10.4,"lo":0.343,"hi":0.452},{"grp":"500","t":10.98,"lo":0.338,"hi":0.448},{"grp":"500","t":11.33,"lo":0.33,"hi":0.442},{"grp":"500","t":11.8,"lo":0.32,"hi":0.432},{"grp":"500","t":12.15,"lo":0.309,"hi":0.422},{"grp":"500","t":12.68,"lo":0.302,"hi":0.411},{"grp":"500","t":13.55,"lo":0.3,"hi":0.39},{"grp":"500","t":13.85,"lo":0.295,"hi":0.387},{"grp":"500","t":14.73,"lo":0.29,"hi":0.38},{"grp":"500","t":15.84,"lo":0.264,"hi":0.375},{"grp":"500","t":17.515,"lo":0.264,"hi":0.375},
      {"grp":"2500","t":0,"lo":1,"hi":1},{"grp":"2500","t":0.15,"lo":0.96,"hi":0.99},{"grp":"2500","t":0.32,"lo":0.92,"hi":0.965},{"grp":"2500","t":0.44,"lo":0.88,"hi":0.935},{"grp":"2500","t":0.68,"lo":0.839,"hi":0.888},{"grp":"2500","t":1.0,"lo":0.81,"hi":0.862},{"grp":"2500","t":1.26,"lo":0.785,"hi":0.838},{"grp":"2500","t":1.5,"lo":0.75,"hi":0.81},{"grp":"2500","t":1.67,"lo":0.7,"hi":0.755},{"grp":"2500","t":1.9,"lo":0.67,"hi":0.73},{"grp":"2500","t":2.14,"lo":0.63,"hi":0.7},{"grp":"2500","t":2.37,"lo":0.595,"hi":0.665},{"grp":"2500","t":2.55,"lo":0.56,"hi":0.63},{"grp":"2500","t":2.78,"lo":0.53,"hi":0.605},{"grp":"2500","t":3.13,"lo":0.5,"hi":0.578},{"grp":"2500","t":3.49,"lo":0.485,"hi":0.562},{"grp":"2500","t":3.72,"lo":0.463,"hi":0.545},{"grp":"2500","t":3.96,"lo":0.448,"hi":0.53},{"grp":"2500","t":4.25,"lo":0.43,"hi":0.512},{"grp":"2500","t":4.66,"lo":0.418,"hi":0.503},{"grp":"2500","t":5.0,"lo":0.404,"hi":0.49},{"grp":"2500","t":5.3,"lo":0.385,"hi":0.472},{"grp":"2500","t":5.71,"lo":0.37,"hi":0.46},{"grp":"2500","t":6.06,"lo":0.355,"hi":0.446},{"grp":"2500","t":6.41,"lo":0.34,"hi":0.432},{"grp":"2500","t":6.88,"lo":0.33,"hi":0.422},{"grp":"2500","t":7.35,"lo":0.319,"hi":0.41},{"grp":"2500","t":7.53,"lo":0.3,"hi":0.393},{"grp":"2500","t":7.88,"lo":0.278,"hi":0.368},{"grp":"2500","t":8.29,"lo":0.267,"hi":0.357},{"grp":"2500","t":8.87,"lo":0.253,"hi":0.345},{"grp":"2500","t":9.57,"lo":0.232,"hi":0.323},{"grp":"2500","t":9.93,"lo":0.225,"hi":0.316},{"grp":"2500","t":10.4,"lo":0.218,"hi":0.31},{"grp":"2500","t":11.1,"lo":0.212,"hi":0.305},{"grp":"2500","t":11.33,"lo":0.205,"hi":0.3},{"grp":"2500","t":11.8,"lo":0.195,"hi":0.29},{"grp":"2500","t":12.15,"lo":0.184,"hi":0.28},{"grp":"2500","t":12.68,"lo":0.177,"hi":0.272},{"grp":"2500","t":13.55,"lo":0.17,"hi":0.265},{"grp":"2500","t":14.73,"lo":0.162,"hi":0.255},{"grp":"2500","t":15.84,"lo":0.151,"hi":0.245},{"grp":"2500","t":17.515,"lo":0.151,"hi":0.245},
      {"grp":"4500","t":0,"lo":1,"hi":1},{"grp":"4500","t":0.15,"lo":0.945,"hi":0.978},{"grp":"4500","t":0.32,"lo":0.88,"hi":0.922},{"grp":"4500","t":0.44,"lo":0.836,"hi":0.882},{"grp":"4500","t":0.62,"lo":0.795,"hi":0.84},{"grp":"4500","t":0.79,"lo":0.765,"hi":0.815},{"grp":"4500","t":1.03,"lo":0.742,"hi":0.795},{"grp":"4500","t":1.26,"lo":0.712,"hi":0.768},{"grp":"4500","t":1.5,"lo":0.668,"hi":0.728},{"grp":"4500","t":1.67,"lo":0.598,"hi":0.658},{"grp":"4500","t":1.9,"lo":0.556,"hi":0.616},{"grp":"4500","t":2.14,"lo":0.52,"hi":0.582},{"grp":"4500","t":2.37,"lo":0.484,"hi":0.548},{"grp":"4500","t":2.55,"lo":0.448,"hi":0.514},{"grp":"4500","t":2.73,"lo":0.42,"hi":0.486},{"grp":"4500","t":2.96,"lo":0.4,"hi":0.465},{"grp":"4500","t":3.26,"lo":0.378,"hi":0.444},{"grp":"4500","t":3.54,"lo":0.364,"hi":0.43},{"grp":"4500","t":3.72,"lo":0.343,"hi":0.409},{"grp":"4500","t":3.96,"lo":0.321,"hi":0.387},{"grp":"4500","t":4.31,"lo":0.307,"hi":0.373},{"grp":"4500","t":4.66,"lo":0.293,"hi":0.359},{"grp":"4500","t":5.0,"lo":0.283,"hi":0.349},{"grp":"4500","t":5.24,"lo":0.263,"hi":0.327},{"grp":"4500","t":5.71,"lo":0.252,"hi":0.316},{"grp":"4500","t":6.18,"lo":0.238,"hi":0.302},{"grp":"4500","t":6.53,"lo":0.228,"hi":0.29},{"grp":"4500","t":6.88,"lo":0.218,"hi":0.28},{"grp":"4500","t":7.35,"lo":0.207,"hi":0.269},{"grp":"4500","t":7.58,"lo":0.19,"hi":0.252},{"grp":"4500","t":7.93,"lo":0.17,"hi":0.23},{"grp":"4500","t":8.4,"lo":0.16,"hi":0.218},{"grp":"4500","t":8.87,"lo":0.15,"hi":0.208},{"grp":"4500","t":9.46,"lo":0.14,"hi":0.196},{"grp":"4500","t":9.93,"lo":0.13,"hi":0.186},{"grp":"4500","t":10.4,"lo":0.123,"hi":0.179},{"grp":"4500","t":11.1,"lo":0.118,"hi":0.176},{"grp":"4500","t":11.8,"lo":0.108,"hi":0.166},{"grp":"4500","t":12.15,"lo":0.097,"hi":0.155},{"grp":"4500","t":12.68,"lo":0.09,"hi":0.148},{"grp":"4500","t":13.55,"lo":0.085,"hi":0.143},{"grp":"4500","t":14.73,"lo":0.075,"hi":0.135},{"grp":"4500","t":15.84,"lo":0.066,"hi":0.132},{"grp":"4500","t":17.515,"lo":0.066,"hi":0.132},
      {"grp":"6500","t":0,"lo":1,"hi":1},{"grp":"6500","t":0.09,"lo":0.96,"hi":0.982},{"grp":"6500","t":0.18,"lo":0.905,"hi":0.94},{"grp":"6500","t":0.27,"lo":0.852,"hi":0.895},{"grp":"6500","t":0.38,"lo":0.8,"hi":0.85},{"grp":"6500","t":0.5,"lo":0.755,"hi":0.81},{"grp":"6500","t":0.62,"lo":0.72,"hi":0.776},{"grp":"6500","t":0.79,"lo":0.69,"hi":0.75},{"grp":"6500","t":0.97,"lo":0.66,"hi":0.724},{"grp":"6500","t":1.15,"lo":0.622,"hi":0.69},{"grp":"6500","t":1.38,"lo":0.593,"hi":0.662},{"grp":"6500","t":1.55,"lo":0.557,"hi":0.628},{"grp":"6500","t":1.67,"lo":0.5,"hi":0.574},{"grp":"6500","t":1.85,"lo":0.458,"hi":0.532},{"grp":"6500","t":2.08,"lo":0.41,"hi":0.482},{"grp":"6500","t":2.31,"lo":0.37,"hi":0.44},{"grp":"6500","t":2.55,"lo":0.328,"hi":0.394},{"grp":"6500","t":2.78,"lo":0.295,"hi":0.357},{"grp":"6500","t":3.02,"lo":0.276,"hi":0.334},{"grp":"6500","t":3.26,"lo":0.256,"hi":0.312},{"grp":"6500","t":3.54,"lo":0.243,"hi":0.297},{"grp":"6500","t":3.78,"lo":0.224,"hi":0.274},{"grp":"6500","t":4.07,"lo":0.204,"hi":0.252},{"grp":"6500","t":4.42,"lo":0.19,"hi":0.238},{"grp":"6500","t":4.77,"lo":0.177,"hi":0.223},{"grp":"6500","t":5.24,"lo":0.16,"hi":0.204},{"grp":"6500","t":5.71,"lo":0.147,"hi":0.189},{"grp":"6500","t":6.18,"lo":0.137,"hi":0.179},{"grp":"6500","t":6.65,"lo":0.124,"hi":0.164},{"grp":"6500","t":7.12,"lo":0.118,"hi":0.156},{"grp":"6500","t":7.47,"lo":0.107,"hi":0.145},{"grp":"6500","t":7.88,"lo":0.085,"hi":0.12},{"grp":"6500","t":8.4,"lo":0.078,"hi":0.112},{"grp":"6500","t":8.87,"lo":0.068,"hi":0.1},{"grp":"6500","t":9.46,"lo":0.062,"hi":0.092},{"grp":"6500","t":10.4,"lo":0.055,"hi":0.085},{"grp":"6500","t":11.2,"lo":0.051,"hi":0.081},{"grp":"6500","t":11.8,"lo":0.045,"hi":0.074},{"grp":"6500","t":12.68,"lo":0.038,"hi":0.066},{"grp":"6500","t":13.55,"lo":0.032,"hi":0.058},{"grp":"6500","t":14.73,"lo":0.027,"hi":0.053},{"grp":"6500","t":15.84,"lo":0.022,"hi":0.05},{"grp":"6500","t":17.515,"lo":0.022,"hi":0.05},
      {"grp":"8500","t":0,"lo":1,"hi":1},{"grp":"8500","t":0.07,"lo":0.955,"hi":0.985},{"grp":"8500","t":0.15,"lo":0.885,"hi":0.93},{"grp":"8500","t":0.23,"lo":0.81,"hi":0.865},{"grp":"8500","t":0.32,"lo":0.755,"hi":0.81},{"grp":"8500","t":0.44,"lo":0.71,"hi":0.77},{"grp":"8500","t":0.56,"lo":0.665,"hi":0.73},{"grp":"8500","t":0.73,"lo":0.62,"hi":0.69},{"grp":"8500","t":0.91,"lo":0.578,"hi":0.65},{"grp":"8500","t":1.08,"lo":0.55,"hi":0.622},{"grp":"8500","t":1.26,"lo":0.513,"hi":0.588},{"grp":"8500","t":1.43,"lo":0.478,"hi":0.553},{"grp":"8500","t":1.55,"lo":0.43,"hi":0.503},{"grp":"8500","t":1.67,"lo":0.382,"hi":0.455},{"grp":"8500","t":1.85,"lo":0.34,"hi":0.41},{"grp":"8500","t":2.08,"lo":0.293,"hi":0.36},{"grp":"8500","t":2.31,"lo":0.253,"hi":0.316},{"grp":"8500","t":2.55,"lo":0.213,"hi":0.272},{"grp":"8500","t":2.78,"lo":0.18,"hi":0.235},{"grp":"8500","t":3.02,"lo":0.161,"hi":0.212},{"grp":"8500","t":3.37,"lo":0.135,"hi":0.182},{"grp":"8500","t":3.72,"lo":0.116,"hi":0.159},{"grp":"8500","t":4.07,"lo":0.1,"hi":0.139},{"grp":"8500","t":4.54,"lo":0.09,"hi":0.128},{"grp":"8500","t":5.0,"lo":0.078,"hi":0.113},{"grp":"8500","t":5.59,"lo":0.068,"hi":0.1},{"grp":"8500","t":6.18,"lo":0.058,"hi":0.088},{"grp":"8500","t":6.88,"lo":0.049,"hi":0.077},{"grp":"8500","t":7.47,"lo":0.04,"hi":0.065},{"grp":"8500","t":7.88,"lo":0.028,"hi":0.05},{"grp":"8500","t":8.87,"lo":0.022,"hi":0.041},{"grp":"8500","t":9.93,"lo":0.016,"hi":0.033},{"grp":"8500","t":11.1,"lo":0.012,"hi":0.027},{"grp":"8500","t":12.68,"lo":0.008,"hi":0.021},{"grp":"8500","t":14.73,"lo":0.005,"hi":0.016},{"grp":"8500","t":15.84,"lo":0.004,"hi":0.015},{"grp":"8500","t":17.515,"lo":0.004,"hi":0.015},
      {"grp":"10,500","t":0,"lo":1,"hi":1},{"grp":"10,500","t":0.04,"lo":0.945,"hi":0.98},{"grp":"10,500","t":0.11,"lo":0.88,"hi":0.935},{"grp":"10,500","t":0.18,"lo":0.8,"hi":0.87},{"grp":"10,500","t":0.27,"lo":0.735,"hi":0.82},{"grp":"10,500","t":0.35,"lo":0.675,"hi":0.775},{"grp":"10,500","t":0.44,"lo":0.615,"hi":0.72},{"grp":"10,500","t":0.56,"lo":0.56,"hi":0.665},{"grp":"10,500","t":0.68,"lo":0.5,"hi":0.61},{"grp":"10,500","t":0.79,"lo":0.455,"hi":0.56},{"grp":"10,500","t":0.91,"lo":0.42,"hi":0.525},{"grp":"10,500","t":1.08,"lo":0.395,"hi":0.497},{"grp":"10,500","t":1.26,"lo":0.36,"hi":0.46},{"grp":"10,500","t":1.43,"lo":0.325,"hi":0.425},{"grp":"10,500","t":1.55,"lo":0.285,"hi":0.38},{"grp":"10,500","t":1.67,"lo":0.24,"hi":0.33},{"grp":"10,500","t":1.85,"lo":0.2,"hi":0.285},{"grp":"10,500","t":2.08,"lo":0.163,"hi":0.24},{"grp":"10,500","t":2.31,"lo":0.133,"hi":0.2},{"grp":"10,500","t":2.55,"lo":0.095,"hi":0.153},{"grp":"10,500","t":2.78,"lo":0.072,"hi":0.12},{"grp":"10,500","t":3.13,"lo":0.057,"hi":0.098},{"grp":"10,500","t":3.49,"lo":0.048,"hi":0.085},{"grp":"10,500","t":3.84,"lo":0.037,"hi":0.068},{"grp":"10,500","t":4.42,"lo":0.029,"hi":0.056},{"grp":"10,500","t":5.0,"lo":0.023,"hi":0.047},{"grp":"10,500","t":5.71,"lo":0.017,"hi":0.039},{"grp":"10,500","t":6.41,"lo":0.012,"hi":0.03},{"grp":"10,500","t":7.35,"lo":0.009,"hi":0.024},{"grp":"10,500","t":7.88,"lo":0.005,"hi":0.016},{"grp":"10,500","t":9.69,"lo":0.003,"hi":0.012},{"grp":"10,500","t":12.03,"lo":0.001,"hi":0.008},{"grp":"10,500","t":15.84,"lo":0,"hi":0.005},{"grp":"10,500","t":17.515,"lo":0,"hi":0.005}
    ]
  },
  "hconcat": [
    {
      "width": 1777,
      "height": 1880,
      "title": {"text": "A", "anchor": "start", "frame": "group", "dx": -233, "offset": 25, "baseline": "top"},
      "layer": [
        {
          "data": {"name": "bandA"},
          "mark": {"type": "area", "interpolate": "step-after", "opacity": 0.13},
          "encoding": {
            "x": {"field": "t", "type": "quantitative", "scale": {"domain": [-0.846, 17.515], "nice": false, "zero": false},
                  "axis": {"values": [0,1,2,3,4,5,6,7,8,9,10,11,12,13,14,15,16,17], "format": "d", "title": "Time elapsed after CRC diagnosis (years)"}},
            "y": {"field": "lo", "type": "quantitative", "stack": null, "scale": {"domain": [-0.0516, 1.05], "nice": false, "zero": false},
                  "axis": {"values": [0, 0.25, 0.5, 0.75, 1], "format": ".0%", "title": "Overall survival (%)"}},
            "y2": {"field": "hi"},
            "fill": {"field": "grp", "type": "nominal", "sort": ["Normal", "Mild malnutrition", "Moderate malnutrition", "Severe malnutrition"],
                     "scale": {"range": ["#7CAE00", "#00BFC4", "#C77CFF", "#F8766D"]},
                     "legend": {"title": "PNI categories:", "orient": "none", "legendX": 1172, "legendY": 0, "symbolType": "square", "symbolSize": 5476, "symbolStrokeWidth": 0, "rowPadding": 4, "titlePadding": 26, "labelOffset": 30}}
          }
        },
        {
          "data": {"name": "lineA"},
          "mark": {"type": "line", "interpolate": "step-after", "strokeWidth": 7, "opacity": 0.8},
          "encoding": {
            "x": {"field": "t", "type": "quantitative"},
            "y": {"field": "s", "type": "quantitative"},
            "stroke": {"field": "g", "type": "nominal", "sort": ["Normal", "Mild malnutrition", "Moderate malnutrition", "Severe malnutrition"],
                       "scale": {"range": ["#7CAE00", "#00BFC4", "#C77CFF", "#F8766D"]},
                       "legend": {"title": " ", "labelExpr": "''", "orient": "none", "legendX": 1172, "legendY": 5, "symbolType": "M-0.85,0H0.85", "symbolSize": 5476, "symbolStrokeWidth": 7, "rowPadding": 13.5, "titlePadding": 26, "labelOffset": 30}}
          }
        }
      ]
    },
    {
      "width": 1777,
      "height": 1880,
      "title": {"text": "B", "anchor": "start", "frame": "group", "dx": -235, "offset": 25, "baseline": "top"},
      "layer": [
        {
          "data": {"name": "bandB"},
          "mark": {"type": "area", "interpolate": "step-after", "opacity": 0.15},
          "encoding": {
            "x": {"field": "t", "type": "quantitative", "scale": {"domain": [-0.846, 17.515], "nice": false, "zero": false},
                  "axis": {"values": [0,1,2,3,4,5,6,7,8,9,10,11,12,13,14,15,16,17], "format": "d", "title": "Time elapsed after CRC diagnosis (years)"}},
            "y": {"field": "lo", "type": "quantitative", "stack": null, "scale": {"domain": [-0.0516, 1.05], "nice": false, "zero": false},
                  "axis": {"values": [0, 0.25, 0.5, 0.75, 1], "format": ".0%", "title": "Overall survival (%)"}},
            "y2": {"field": "hi"},
            "fill": {"field": "grp", "type": "nominal", "sort": ["500", "2500", "4500", "6500", "8500", "10,500"],
                     "scale": {"range": ["#F8766D", "#B79F00", "#00BA38", "#00BFC4", "#619CFF", "#F564E3"]},
                     "legend": {"title": "Baseline SII value:", "orient": "none", "legendX": 1252, "legendY": 17, "symbolType": "square", "symbolSize": 5476, "symbolStrokeWidth": 0, "rowPadding": 5, "titlePadding": 26, "labelOffset": 30}}
          }
        },
        {
          "data": {"name": "lineB"},
          "mark": {"type": "line", "interpolate": "step-after", "strokeWidth": 7},
          "encoding": {
            "x": {"field": "t", "type": "quantitative"},
            "y": {"field": "s", "type": "quantitative"},
            "stroke": {"field": "g", "type": "nominal", "sort": ["500", "2500", "4500", "6500", "8500", "10,500"],
                       "scale": {"range": ["#F8766D", "#B79F00", "#00BA38", "#00BFC4", "#619CFF", "#F564E3"]},
                       "legend": {"title": " ", "labelExpr": "''", "orient": "none", "legendX": 1252, "legendY": 22, "symbolType": "M-0.85,0H0.85", "symbolSize": 5476, "symbolStrokeWidth": 7, "rowPadding": 14.5, "titlePadding": 26, "labelOffset": 30}}
          }
        }
      ]
    }
  ],
  "resolve": {"scale": {"fill": "independent", "stroke": "independent", "x": "independent", "y": "independent"}, "legend": {"fill": "independent", "stroke": "independent"}},
  "config": {
    "font": "Liberation Sans",
    "view": {"stroke": null},
    "axis": {"grid": false, "domainColor": "#000000", "domainWidth": 4.5, "tickColor": "#000000", "tickWidth": 4.5, "tickSize": 14,
             "labelColor": "#000000", "labelFontSize": 52, "titleColor": "#000000", "titleFontSize": 64, "titleFontWeight": "normal",
             "labelFlush": false, "labelOverlap": false, "labelBound": false},
    "axisX": {"labelPadding": 9, "titlePadding": 15},
    "axisY": {"tickSize": 13, "labelPadding": 13, "titlePadding": 13},
    "legend": {"titleFontSize": 44, "titleFontWeight": "normal", "labelFontSize": 44, "titleColor": "#000000", "labelColor": "#000000", "labelLimit": 0, "titleLimit": 0},
    "title": {"fontSize": 72, "fontWeight": "normal", "color": "#000000"}
  }
}
